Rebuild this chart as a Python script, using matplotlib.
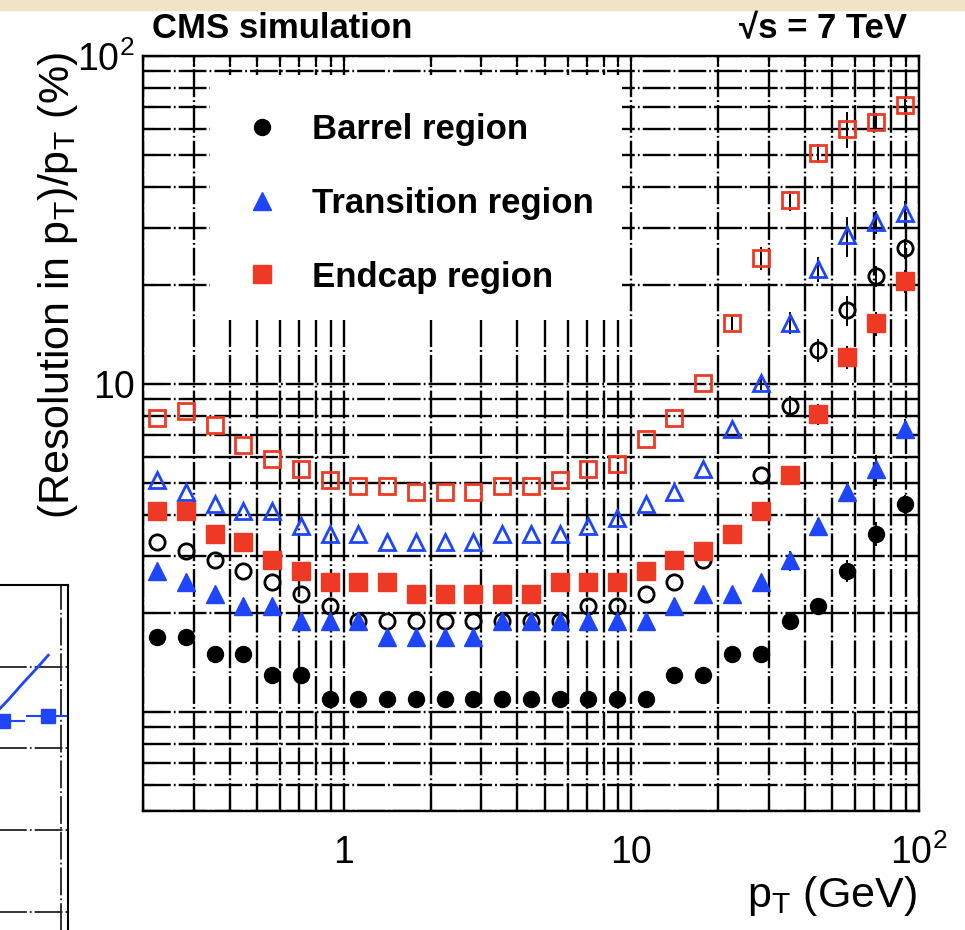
import matplotlib
matplotlib.use("Agg")
import matplotlib.pyplot as plt
from matplotlib.lines import Line2D
from matplotlib.patches import Rectangle
from matplotlib.ticker import LogLocator, NullFormatter

plt.rcParams["font.family"] = ["Liberation Sans", "DejaVu Sans"]
plt.rcParams["mathtext.fontset"] = "custom"
plt.rcParams["mathtext.rm"] = "Liberation Sans"
plt.rcParams["mathtext.it"] = "Liberation Sans:italic"
plt.rcParams["mathtext.bf"] = "Liberation Sans:bold"
plt.rcParams["mathtext.default"] = "regular"
plt.rcParams["lines.scale_dashes"] = False

# --- data: pT bin centres (GeV) and resolution (%) ---
pt = [0.224, 0.282, 0.355, 0.447, 0.562, 0.708, 0.891, 1.12, 1.41, 1.78,
      2.24, 2.82, 3.55, 4.47, 5.62, 7.08, 8.91, 11.2, 14.1, 17.8,
      22.4, 28.2, 35.5, 44.7, 56.2, 70.8, 89.1]

barrel_filled = [1.7, 1.7, 1.5, 1.5, 1.3, 1.3, 1.1, 1.1, 1.1, 1.1,
                 1.1, 1.1, 1.1, 1.1, 1.1, 1.1, 1.1, 1.1, 1.3, 1.3,
                 1.5, 1.5, 1.9, 2.1, 2.7, 3.5, 4.3]
barrel_open = [3.3, 3.1, 2.9, 2.7, 2.5, 2.3, 2.1, 1.9, 1.9, 1.9,
               1.9, 1.9, 1.9, 1.9, 1.9, 2.1, 2.1, 2.3, 2.5, 2.9,
               3.5, 5.3, 8.6, 12.7, 16.8, 21.3, 25.9]
trans_filled = [2.7, 2.5, 2.3, 2.1, 2.1, 1.9, 1.9, 1.9, 1.7, 1.7,
                1.7, 1.7, 1.9, 1.9, 1.9, 1.9, 1.9, 1.9, 2.1, 2.3,
                2.3, 2.5, 2.9, 3.7, 4.7, 5.5, 7.3]
trans_open = [5.1, 4.7, 4.3, 4.1, 4.1, 3.7, 3.5, 3.5, 3.3, 3.3,
              3.3, 3.3, 3.5, 3.5, 3.5, 3.7, 3.9, 4.3, 4.7, 5.5,
              7.3, 10.1, 15.4, 22.4, 28.4, 31.2, 33.2]
endcap_filled = [4.1, 4.1, 3.5, 3.3, 2.9, 2.7, 2.5, 2.5, 2.5, 2.3,
                 2.3, 2.3, 2.3, 2.3, 2.5, 2.5, 2.5, 2.7, 2.9, 3.1,
                 3.5, 4.1, 5.3, 8.1, 12.1, 15.3, 20.6]
endcap_open = [7.9, 8.3, 7.5, 6.5, 5.9, 5.5, 5.1, 4.9, 4.9, 4.7,
               4.7, 4.7, 4.9, 4.9, 5.1, 5.5, 5.7, 6.8, 7.9, 10.1,
               15.4, 24.2, 36.3, 50.6, 59.8, 62.9, 70.8]

# statistical errors (only visible at high pT)
barrel_filled_err = [0] * 22 + [0.1, 0.1, 0.2, 0.3, 0.3]
barrel_open_err = [0] * 22 + [0.6, 1.0, 1.8, 1.6, 1.8]
trans_filled_err = [0] * 22 + [0.2, 0.2, 0.3, 0.6, 0.5]
trans_open_err = [0] * 21 + [0.5, 1.2, 2.0, 4.0, 2.5, 3.0]
endcap_filled_err = [0] * 22 + [0.3, 0.6, 1.0, 1.3, 1.6]
endcap_open_err = [0] * 20 + [0.8, 2.0, 2.5, 3.5, 7.5, 4.0, 4.5]

legend_labels = ["Barrel region", "Transition region", "Endcap region"]

# neighbouring plot cut off at the lower left of the screenshot
side_curve_x = [7.9, 8.3, 8.71, 9.1, 9.43]
side_curve_y = [5.42, 5.60, 5.80, 5.98, 6.14]
side_pts_x = [8.14, 9.43]
side_pts_y = [5.34, 5.40]
side_pts_xerr = [0.62, 0.65]

BLACK = "black"
BLUE = "#1f45fa"
RED = "#ee3a24"

fig = plt.figure(figsize=(9.65, 9.30), dpi=100)

# beige strip at the top of the screenshot
fig.patches.append(Rectangle((0, 1 - 10 / 930), 1, 10 / 930, transform=fig.transFigure,
                             color="#efe5c6", zorder=0))

grid_style = (0, (20, 2.2, 1.3, 2.2))

ax = fig.add_axes([0.1482, 0.1280, 0.8041, 0.8118])
ax.set_xscale("log")
ax.set_yscale("log")
ax.set_xlim(0.2, 100)
ax.set_ylim(0.5, 100)
ax.set_axisbelow(True)
ax.grid(True, which="both", color="black", linestyle=grid_style, linewidth=1.7)

ax.xaxis.set_minor_locator(LogLocator(base=10, subs=range(2, 10)))
ax.yaxis.set_minor_locator(LogLocator(base=10, subs=range(2, 10)))
ax.set_xticks([1, 10, 100], labels=["1", "10", r"$10^{2}$"])
ax.set_yticks([1, 10, 100], labels=["", "10", r"$10^{2}$"])
ax.xaxis.set_minor_formatter(NullFormatter())
ax.yaxis.set_minor_formatter(NullFormatter())
ax.tick_params(which="both", direction="in", top=True, right=True, width=1.5)
ax.tick_params(which="major", length=16, labelsize=27)
ax.tick_params(which="minor", length=8)
ax.tick_params(axis="x", which="major", pad=17)
ax.tick_params(axis="y", which="major", pad=6)
for s in ax.spines.values():
    s.set_linewidth(1.7)

# white legend box covering the grid
ax.add_patch(Rectangle((0.0863, 0.650), 0.531, 0.325, transform=ax.transAxes,
                       facecolor="white", edgecolor="none", zorder=1))

series = [
    (barrel_open, barrel_open_err, "o", BLACK, False, 11),
    (trans_open, trans_open_err, "^", BLUE, False, 12),
    (endcap_open, endcap_open_err, "s", RED, False, 12),
    (barrel_filled, barrel_filled_err, "o", BLACK, True, 11.5),
    (trans_filled, trans_filled_err, "^", BLUE, True, 12.5),
    (endcap_filled, endcap_filled_err, "s", RED, True, 12.5),
]
for vals, err, mk, col, filled, ms in series:
    ax.errorbar(pt, vals, yerr=err, fmt="none", ecolor="black", elinewidth=1.4,
                capsize=0, zorder=2.5)
    ax.plot(pt, vals, linestyle="none", marker=mk, markersize=ms,
            markerfacecolor=col if filled else "none", markeredgecolor=col,
            markeredgewidth=2.0 if not filled else 1.0, zorder=3)

handles = [
    Line2D([], [], linestyle="none", marker="o", markersize=11.5, color=BLACK),
    Line2D([], [], linestyle="none", marker="^", markersize=12.5, color=BLUE),
    Line2D([], [], linestyle="none", marker="s", markersize=12.5, color=RED),
]
leg = ax.legend(handles, legend_labels, loc="upper left", bbox_to_anchor=(0.131, 0.924),
                frameon=False, borderpad=0, borderaxespad=0, handlelength=1.0,
                handletextpad=0.95, labelspacing=1.17, numpoints=1,
                prop={"size": 25, "weight": "bold"})
leg.set_zorder(5)

fig.text(0.1575, 0.959, "CMS simulation", fontsize=25, fontweight="bold",
         ha="left", va="baseline")
fig.text(0.940, 0.959, "\u221as = 7 TeV", fontsize=25, fontweight="bold",
         ha="right", va="baseline")
fig.text(0.060, 0.944, r"(Resolution in $p_{T}$)/$p_{T}$ (%)", fontsize=31,
         rotation=90, ha="center", va="top")
fig.text(0.950, 0.025, r"$p_{T}$ (GeV)", fontsize=31, ha="right", va="baseline")

# partial neighbouring plot at lower left
ax2 = fig.add_axes([-0.292, -0.2, 0.3627, 0.571])
ax2.set_xlim(0, 10)
ax2.set_ylim(0.5, 7)
ax2.set_xticks([9.8])
ax2.set_yticks([3, 4, 5, 6])
ax2.tick_params(labelleft=False, labelbottom=False, length=0)
ax2.grid(True, color="#222222", linestyle=grid_style, linewidth=1.3)
ax2.plot(side_curve_x, side_curve_y, color=BLUE, linewidth=2)
ax2.errorbar(side_pts_x, side_pts_y, xerr=side_pts_xerr, fmt="s", color=BLUE,
             markersize=9.5, elinewidth=1.5, capsize=0)
for s in ax2.spines.values():
    s.set_linewidth(1.5)

fig.savefig("out.png", dpi=100)
